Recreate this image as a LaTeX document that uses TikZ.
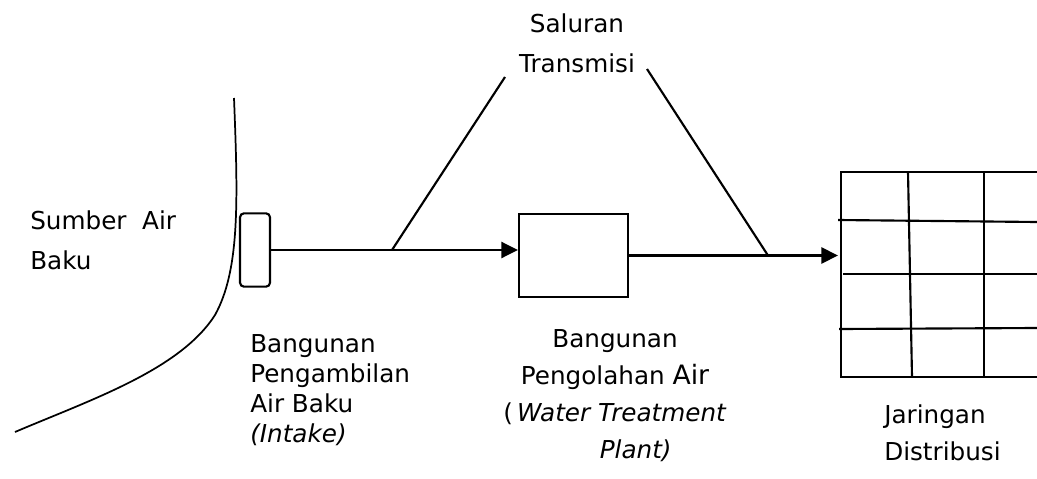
\documentclass[tikz,border=0pt]{standalone}
\usepackage{fontspec}
\setmainfont{DejaVu Sans}
\usetikzlibrary{arrows.meta,positioning}

\begin{document}
\begin{tikzpicture}[x=0.75pt,y=-0.75pt,
    garis/.style={line width=1.6pt},
    pipa/.style={line width=2pt, -{Triangle[length=12.5pt,width=12pt]}},
    teks/.style={inner sep=0, font=\fontsize{18.5}{22.5}\selectfont}]
\useasboundingbox (0,0) rectangle (1037,478);
% tepi sungai
\draw[line width=1.3pt] (234,98) .. controls (238,200) and (240,270) .. (215,315) .. controls (180,370) and (90,400) .. (15,432);
\node[teks, anchor=base west, align=left, font=\fontsize{18.5}{30}\selectfont] (sumber) at (30,269) {Sumber\ \ Air\\Baku};
% bangunan
\node[draw, garis, rounded corners=3pt, inner sep=0, minimum width=22.5pt, minimum height=55pt] (intake) at (255,250) {};
\node[draw, garis, inner sep=0, minimum width=81.75pt, minimum height=62.25pt] (ipa) at (573.5,255.5) {};
\coordinate (jar) at (838,253);
\draw[pipa] (intake.east) -- (intake.east -| ipa.west);
\draw[pipa] (ipa.east) -- (ipa.east -| jar);
% jaringan distribusi
\draw[garis] (1037,172) -- (841,172) -- (841,377) -- (1037,377);
\draw[garis] (908,172) -- (912,377);
\draw[garis] (984,172) -- (984,377);
\draw[garis] (838,220) -- (1037,222);
\draw[garis] (843,274) -- (1037,274);
\draw[garis] (839,329) -- (1037,328);
% saluran transmisi
\node[teks, anchor=base, align=center, font=\fontsize{18.5}{29.25}\selectfont] (saluran) at (577,72) {Saluran\\Transmisi};
\coordinate (s1) at (505,77);
\coordinate (s2) at (647,69);
\coordinate (t1) at (392,250);
\coordinate (t2) at (768,255.5);
\draw[garis] (s1) -- (t1);
\draw[garis] (s2) -- (t2);
% keterangan
\node[teks, anchor=base west, align=left] (lintake) at (250,442) {Bangunan\\Pengambilan\\Air Baku\\\textit{(Intake)}};
\node[teks, anchor=base, align=center, font=\fontsize{18.5}{27.75}\selectfont] (lipa) at (615,458) {Bangunan\\Pengolahan {\fontsize{20}{27.75}\selectfont Air}\\(\,\textit{Water Treatment}\\\hspace*{31pt}\textit{Plant)}};
\node[teks, anchor=base west, align=left, font=\fontsize{18.5}{27.75}\selectfont] (ljar) at (884,460) {Jaringan\\Distribusi};
\end{tikzpicture}
\end{document}
